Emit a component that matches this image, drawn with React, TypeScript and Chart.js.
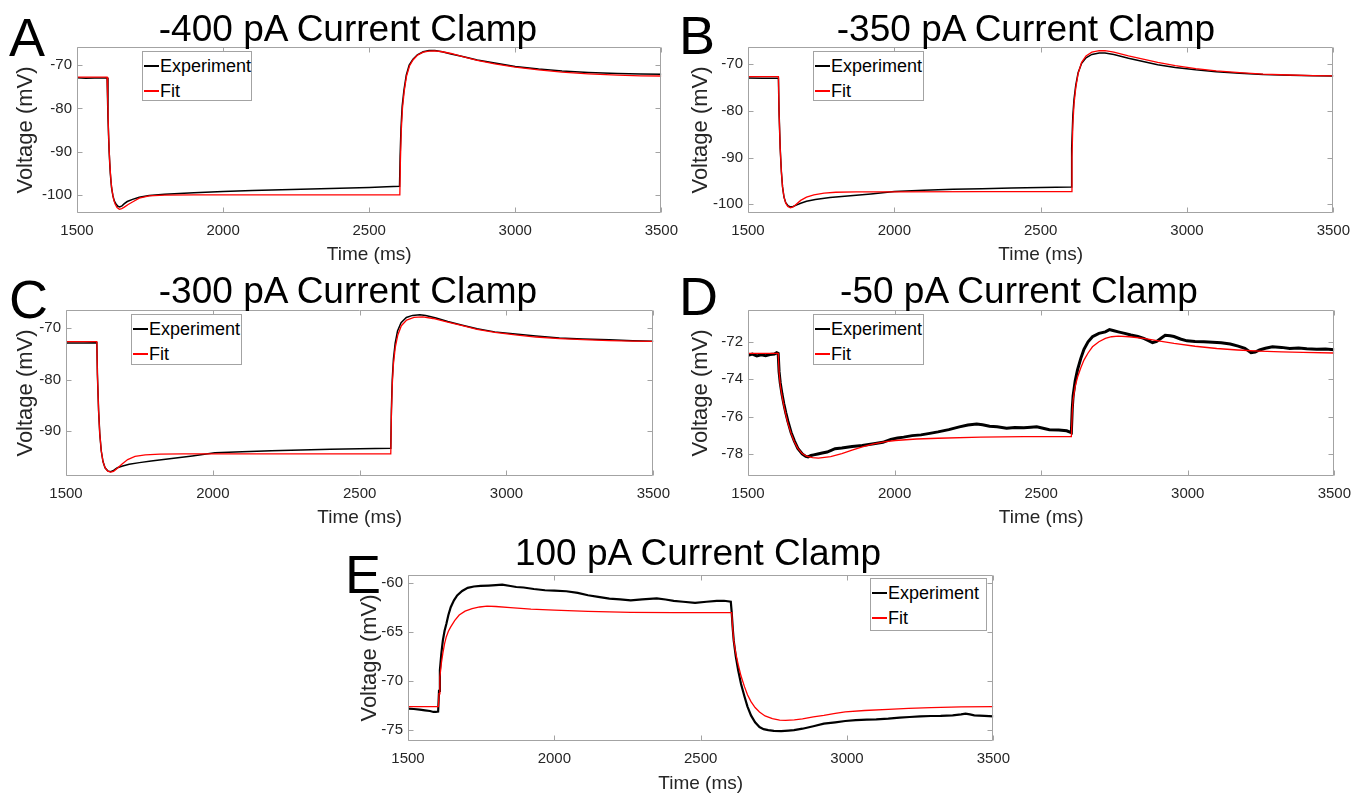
import React, { useEffect, useRef } from 'react';
import { Chart, registerables } from 'chart.js';

Chart.register(...registerables);

const FONT = '"Liberation Sans", Arial, Helvetica, sans-serif';
const AXIS_GRAY = '#a3a3a3';
const LABEL_COLOR = '#262626';
const TICK_SIZE = 15;
const X_TITLE_SIZE = 19;
const Y_TITLE_SIZE = 22;

// ---------- shared axis values ----------
const timeTicks = [1500, 2000, 2500, 3000, 3500];
const timeMin = 1500;
const timeMax = 3500;

// ---------- Panel A: -400 pA ----------
const aVoltTicks = [-100, -90, -80, -70];
const aExperiment: [number, number][] = [
  [1500, -72.9], [1530, -73.0], [1560, -72.95], [1590, -72.95], [1603, -72.9],
  [1606, -82], [1610, -90], [1614, -95], [1618, -98.2], [1623, -100.2],
  [1628, -101.4], [1634, -102.1], [1640, -102.6], [1646, -102.75], [1654, -102.5],
  [1662, -102.0], [1672, -101.5], [1690, -101.0], [1713, -100.5], [1747, -100.1],
  [1800, -99.8], [1900, -99.5], [2000, -99.2], [2100, -98.95], [2200, -98.8],
  [2300, -98.6], [2400, -98.45], [2500, -98.25], [2560, -98.1], [2604, -97.95],
  [2606, -91], [2609, -84.5], [2613, -79.5], [2619, -75.8], [2627, -72.3],
  [2637, -70.0], [2650, -68.6], [2665, -67.6], [2685, -66.9], [2705, -66.6],
  [2725, -66.6], [2750, -66.9], [2780, -67.4], [2820, -68.0], [2870, -68.8],
  [2930, -69.5], [3000, -70.3], [3080, -70.9], [3160, -71.35], [3250, -71.7],
  [3350, -71.95], [3430, -72.05], [3500, -72.1],
];
const aFit: [number, number][] = [
  [1500, -72.75], [1603, -72.75], [1605, -78], [1608, -86], [1612, -92.5],
  [1616, -96.5], [1620, -99.0], [1625, -100.9], [1630, -102.0], [1637, -102.9],
  [1645, -103.3], [1653, -103.15], [1662, -102.8], [1675, -102.2], [1690, -101.6],
  [1713, -100.7], [1747, -100.2], [1800, -100.0], [1900, -99.95], [2200, -99.95],
  [2605, -99.95], [2607, -92], [2610, -85], [2614, -80], [2620, -76],
  [2628, -72.5], [2638, -70.2], [2650, -68.8], [2665, -67.7], [2685, -67.0],
  [2705, -66.75], [2725, -66.7], [2750, -66.9], [2780, -67.3], [2820, -68.0],
  [2870, -68.9], [2930, -69.7], [3000, -70.45], [3080, -71.1], [3160, -71.6],
  [3250, -72.0], [3350, -72.3], [3430, -72.45], [3500, -72.5],
];

// ---------- Panel B: -350 pA ----------
const bVoltTicks = [-100, -90, -80, -70];
const bExperiment: [number, number][] = [
  [1500, -72.95], [1550, -73.0], [1590, -73.0], [1604, -73.0], [1606, -80],
  [1610, -88], [1614, -93], [1618, -96.3], [1623, -98.5], [1629, -99.7],
  [1636, -100.3], [1645, -100.6], [1654, -100.5], [1665, -100.2], [1680, -99.8],
  [1700, -99.4], [1730, -99.0], [1780, -98.6], [1850, -98.2], [1920, -97.8],
  [2000, -97.3], [2100, -97.0], [2200, -96.8], [2300, -96.7], [2400, -96.55],
  [2500, -96.45], [2604, -96.3], [2606, -88], [2610, -81], [2614, -77.5],
  [2620, -74.5], [2628, -71.8], [2640, -69.8], [2655, -68.6], [2675, -67.9],
  [2700, -67.6], [2720, -67.6], [2750, -67.9], [2800, -68.7], [2850, -69.4],
  [2900, -70.1], [2960, -70.7], [3030, -71.2], [3100, -71.6], [3180, -71.95],
  [3260, -72.2], [3350, -72.35], [3430, -72.45], [3500, -72.5],
];
const bFit: [number, number][] = [
  [1500, -72.65], [1604, -72.65], [1606, -80], [1610, -88], [1614, -93],
  [1618, -96.3], [1623, -98.5], [1629, -99.8], [1636, -100.5], [1645, -100.8],
  [1654, -100.6], [1665, -100.0], [1680, -99.2], [1700, -98.5], [1725, -98.0],
  [1760, -97.65], [1800, -97.45], [1870, -97.35], [2000, -97.35], [2300, -97.3],
  [2605, -97.3], [2607, -90], [2610, -83], [2614, -78.5], [2620, -75],
  [2628, -72.0], [2640, -69.6], [2655, -68.2], [2675, -67.4], [2700, -67.1],
  [2720, -67.1], [2750, -67.4], [2800, -68.2], [2850, -68.9], [2900, -69.6],
  [2960, -70.3], [3030, -70.95], [3100, -71.4], [3180, -71.8], [3260, -72.1],
  [3350, -72.3], [3430, -72.45], [3500, -72.5],
];

// ---------- Panel C: -300 pA ----------
const cVoltTicks = [-90, -80, -70];
const cExperiment: [number, number][] = [
  [1500, -72.85], [1560, -72.85], [1605, -72.8], [1607, -79], [1611, -86],
  [1615, -90.5], [1620, -93.8], [1626, -95.9], [1633, -97.1], [1642, -97.7],
  [1652, -97.85], [1662, -97.6], [1675, -97.1], [1690, -96.8], [1715, -96.4],
  [1750, -96.1], [1790, -95.8], [1860, -95.3], [1930, -94.8], [2007, -94.2],
  [2100, -94.0], [2200, -93.8], [2300, -93.65], [2400, -93.5], [2500, -93.4],
  [2606, -93.3], [2608, -86], [2611, -80], [2615, -76], [2621, -72.9],
  [2629, -70.5], [2641, -68.9], [2659, -67.9], [2680, -67.5], [2705, -67.35],
  [2725, -67.5], [2760, -68.0], [2800, -68.7], [2850, -69.4], [2900, -70.1],
  [2960, -70.7], [3030, -71.1], [3100, -71.5], [3180, -71.9], [3260, -72.1],
  [3350, -72.25], [3430, -72.4], [3500, -72.5],
];
const cFit: [number, number][] = [
  [1500, -72.6], [1605, -72.6], [1607, -79], [1611, -86], [1615, -90.5],
  [1620, -93.8], [1626, -95.9], [1633, -97.1], [1642, -97.75], [1652, -97.95],
  [1662, -97.8], [1675, -97.2], [1690, -96.4], [1710, -95.5], [1735, -94.9],
  [1770, -94.6], [1820, -94.45], [1900, -94.4], [2300, -94.4], [2606, -94.4],
  [2608, -87], [2611, -81], [2615, -77], [2621, -73.8], [2630, -71.3],
  [2642, -69.5], [2660, -68.4], [2685, -67.9], [2715, -67.8], [2750, -68.1],
  [2800, -68.8], [2850, -69.5], [2900, -70.2], [2960, -70.8], [3030, -71.3],
  [3100, -71.7], [3180, -72.0], [3260, -72.2], [3350, -72.4], [3430, -72.5],
  [3500, -72.55],
];

// ---------- Panel D: -50 pA ----------
const dVoltTicks = [-78, -76, -74, -72];
const dExperiment: [number, number][] = [
  [1500, -72.72], [1515, -72.66], [1530, -72.76], [1545, -72.7], [1560, -72.74],
  [1575, -72.68], [1590, -72.66], [1598, -72.58], [1603, -72.62], [1606, -73.6],
  [1610, -74.2], [1616, -74.8], [1622, -75.3], [1629, -75.8], [1636, -76.25],
  [1647, -76.85], [1658, -77.3], [1670, -77.7], [1685, -78.0], [1697, -78.13],
  [1705, -78.16], [1715, -78.08], [1724, -78.05], [1738, -78.0], [1753, -77.95],
  [1770, -77.9], [1797, -77.72], [1820, -77.68], [1855, -77.6], [1890, -77.55],
  [1929, -77.45], [1960, -77.38], [1987, -77.22], [2010, -77.15], [2031, -77.1],
  [2060, -77.02], [2090, -76.98], [2120, -76.9], [2148, -76.82], [2185, -76.7],
  [2221, -76.55], [2250, -76.45], [2280, -76.4], [2300, -76.44], [2324, -76.52],
  [2350, -76.55], [2382, -76.62], [2410, -76.58], [2441, -76.6], [2465, -76.57],
  [2485, -76.55], [2510, -76.64], [2528, -76.7], [2560, -76.72], [2587, -76.76],
  [2603, -76.86], [2606, -75.6], [2609, -74.9], [2616, -74.1], [2624, -73.5],
  [2635, -72.9], [2646, -72.4], [2660, -72.0], [2675, -71.73], [2697, -71.55],
  [2719, -71.47], [2733, -71.35], [2745, -71.4], [2763, -71.47], [2785, -71.55],
  [2806, -71.64], [2830, -71.72], [2850, -71.82], [2868, -71.95], [2880, -72.05],
  [2894, -71.98], [2910, -71.8], [2923, -71.65], [2940, -71.68], [2953, -71.72],
  [2975, -71.85], [2997, -71.95], [3025, -71.98], [3055, -72.0], [3085, -72.02],
  [3114, -72.05], [3145, -72.12], [3172, -72.23], [3195, -72.35], [3216, -72.58],
  [3230, -72.55], [3245, -72.44], [3265, -72.35], [3289, -72.27], [3320, -72.3],
  [3348, -72.36], [3378, -72.33], [3406, -72.37], [3440, -72.4], [3470, -72.38],
  [3500, -72.42],
];
const dFit: [number, number][] = [
  [1500, -72.62], [1603, -72.62], [1606, -73.6], [1610, -74.3], [1616, -74.9],
  [1622, -75.4], [1629, -75.9], [1636, -76.35], [1647, -76.9], [1658, -77.35],
  [1670, -77.7], [1685, -77.98], [1700, -78.12], [1720, -78.2], [1740, -78.22],
  [1782, -78.14], [1820, -77.98], [1855, -77.8], [1890, -77.62], [1929, -77.46],
  [1965, -77.36], [2002, -77.28], [2075, -77.2], [2148, -77.16], [2294, -77.1],
  [2441, -77.07], [2603, -77.07], [2606, -75.8], [2609, -75.1], [2616, -74.4],
  [2624, -73.9], [2635, -73.4], [2646, -72.98], [2660, -72.6], [2675, -72.27],
  [2697, -72.0], [2719, -71.82], [2740, -71.73], [2763, -71.7], [2800, -71.73],
  [2850, -71.82], [2900, -71.95], [2953, -72.09], [3025, -72.24], [3099, -72.36],
  [3170, -72.44], [3245, -72.5], [3320, -72.54], [3392, -72.57], [3500, -72.6],
];

// ---------- Panel E: 100 pA ----------
const eVoltTicks = [-75, -70, -65, -60];
const eExperiment: [number, number][] = [
  [1500, -72.8], [1520, -72.85], [1540, -72.92], [1558, -72.98], [1575, -73.05],
  [1587, -73.15], [1595, -73.15], [1603, -73.1], [1606, -71.0], [1609, -68.9],
  [1614, -67.2], [1619, -65.9], [1625, -64.9], [1631, -64.2], [1638, -63.3],
  [1646, -62.5], [1657, -61.8], [1668, -61.3], [1685, -60.85], [1704, -60.54],
  [1725, -60.4], [1748, -60.34], [1775, -60.3], [1800, -60.25], [1822, -60.2],
  [1850, -60.35], [1870, -60.45], [1895, -60.5], [1930, -60.65], [1968, -60.78],
  [2000, -60.82], [2041, -60.88], [2080, -61.05], [2115, -61.29], [2150, -61.45],
  [2188, -61.63], [2225, -61.7], [2261, -61.8], [2300, -61.7], [2350, -61.6],
  [2380, -61.72], [2408, -61.86], [2440, -61.95], [2481, -62.07], [2520, -61.95],
  [2555, -61.86], [2580, -61.85], [2603, -61.95], [2606, -63.0], [2610, -64.8],
  [2613, -65.9], [2620, -67.5], [2628, -68.9], [2638, -70.3], [2650, -71.6],
  [2660, -72.6], [2672, -73.5], [2686, -74.2], [2701, -74.68], [2715, -74.9],
  [2731, -75.0], [2750, -75.08], [2775, -75.1], [2800, -75.05], [2819, -75.0],
  [2848, -74.85], [2885, -74.6], [2921, -74.34], [2960, -74.2], [2994, -74.07],
  [3030, -73.98], [3068, -73.93], [3100, -73.9], [3141, -73.83], [3180, -73.72],
  [3214, -73.66], [3250, -73.6], [3287, -73.56], [3320, -73.55], [3361, -73.49],
  [3390, -73.4], [3405, -73.32], [3420, -73.4], [3435, -73.49], [3470, -73.55],
  [3500, -73.6],
];
const eFit: [number, number][] = [
  [1500, -72.6], [1604, -72.6], [1606, -71.3], [1609, -69.6], [1614, -68.2],
  [1619, -67.2], [1625, -66.2], [1631, -65.5], [1638, -64.95], [1646, -64.5],
  [1660, -63.85], [1675, -63.3], [1695, -62.9], [1719, -62.64], [1745, -62.48],
  [1770, -62.4], [1800, -62.43], [1850, -62.55], [1920, -62.7], [2000, -62.8],
  [2115, -62.92], [2261, -63.02], [2408, -63.05], [2606, -63.05], [2609, -64.5],
  [2613, -65.9], [2620, -67.2], [2628, -68.3], [2638, -69.5], [2650, -70.6],
  [2660, -71.4], [2672, -72.1], [2686, -72.7], [2701, -73.15], [2720, -73.55],
  [2745, -73.83], [2770, -73.97], [2790, -74.0], [2820, -73.95], [2848, -73.85],
  [2885, -73.65], [2921, -73.5], [2960, -73.3], [2994, -73.15], [3060, -73.0],
  [3141, -72.88], [3210, -72.78], [3287, -72.71], [3390, -72.64], [3500, -72.6],
];

// ---------- layout of the figure ----------
type Box = { l: number; t: number; r: number; b: number };
type PanelSpec = {
  letter: string;
  title: string;
  exp: [number, number][];
  fit: [number, number][];
  yMin: number;
  yMax: number;
  yTicks: number[];
  plot: Box;
  yTitleX: number;
  xTitleY: number;
  titleX: number;
  titleBase: number;
  letterX: number;
  letterBase: number;
  legend: { l: number; t: number; w: number; h: number };
  expW: number;
};

const panels: PanelSpec[] = [
  {
    letter: 'A', title: '-400 pA Current Clamp', exp: aExperiment, fit: aFit,
    yMin: -104.15, yMax: -65.8, yTicks: aVoltTicks,
    plot: { l: 77, t: 47, r: 668, b: 213 }, yTitleX: 26, xTitleY: 255,
    titleX: 348, titleBase: 41, letterX: 9, letterBase: 56,
    legend: { l: 142, t: 51, w: 110, h: 50 }, expW: 1.5,
  },
  {
    letter: 'B', title: '-350 pA Current Clamp', exp: bExperiment, fit: bFit,
    yMin: -101.9, yMax: -66.3, yTicks: bVoltTicks,
    plot: { l: 748, t: 47, r: 1340, b: 213 }, yTitleX: 701, xTitleY: 255,
    titleX: 1026, titleBase: 41, letterX: 679, letterBase: 54,
    legend: { l: 813, t: 51, w: 111, h: 50 }, expW: 1.5,
  },
  {
    letter: 'C', title: '-300 pA Current Clamp', exp: cExperiment, fit: cFit,
    yMin: -98.7, yMax: -66.45, yTicks: cVoltTicks,
    plot: { l: 66, t: 310, r: 660, b: 476 }, yTitleX: 26, xTitleY: 518,
    titleX: 348, titleBase: 303, letterX: 9, letterBase: 318,
    legend: { l: 131, t: 314, w: 111, h: 51 }, expW: 1.5,
  },
  {
    letter: 'D', title: '-50 pA Current Clamp', exp: dExperiment, fit: dFit,
    yMin: -79.18, yMax: -70.3, yTicks: dVoltTicks,
    plot: { l: 748, t: 310, r: 1341, b: 476 }, yTitleX: 701, xTitleY: 518,
    titleX: 1019, titleBase: 303, letterX: 679, letterBase: 315,
    legend: { l: 813, t: 314, w: 111, h: 51 }, expW: 3,
  },
  {
    letter: 'E', title: '100 pA Current Clamp', exp: eExperiment, fit: eFit,
    yMin: -76.1, yMax: -59.23, yTicks: eVoltTicks,
    plot: { l: 408, t: 575, r: 1000, b: 741 }, yTitleX: 370, xTitleY: 784,
    titleX: 698, titleBase: 565, letterX: 345, letterBase: 593,
    legend: { l: 870, t: 578, w: 117, h: 53 }, expW: 2.2,
  },
];

const boxPlugin = {
  id: 'matlabBox',
  afterDraw(chart: any) {
    const { ctx, chartArea } = chart;
    const xs = chart.scales.x;
    const ys = chart.scales.y;
    const L = Math.round(chartArea.left) + 0.5;
    const R = Math.round(chartArea.right) - 0.5;
    const T = Math.round(chartArea.top) + 0.5;
    const B = Math.round(chartArea.bottom) - 0.5;
    const TL = 5;
    ctx.save();
    ctx.strokeStyle = AXIS_GRAY;
    ctx.lineWidth = 1;
    ctx.beginPath();
    ctx.rect(L, T, R - L, B - T);
    xs.ticks.forEach((t: any) => {
      const px = Math.round(xs.getPixelForValue(t.value)) + 0.5;
      ctx.moveTo(px, B); ctx.lineTo(px, B - TL);
      ctx.moveTo(px, T); ctx.lineTo(px, T + TL);
    });
    ys.ticks.forEach((t: any) => {
      const py = Math.round(ys.getPixelForValue(t.value)) + 0.5;
      ctx.moveTo(L, py); ctx.lineTo(L + TL, py);
      ctx.moveTo(R, py); ctx.lineTo(R - TL, py);
    });
    ctx.stroke();
    ctx.restore();
  },
};

const PT = 14;
const PR = 19;

function PanelChart({ p }: { p: PanelSpec }) {
  const ref = useRef<HTMLCanvasElement>(null);
  const ylh = Y_TITLE_SIZE * 1.2;
  const xlh = X_TITLE_SIZE * 1.2;
  const cLeft = Math.round(p.yTitleX - ylh / 2);
  const cTop = p.plot.t - PT;
  const yw = p.plot.l - cLeft;
  const xh = Math.round(p.xTitleY + xlh / 2 - p.plot.b);
  const W = yw + (p.plot.r - p.plot.l) + PR;
  const H = PT + (p.plot.b - p.plot.t) + xh;

  useEffect(() => {
    const canvas = ref.current;
    if (!canvas) return;
    const tickFont = { family: FONT, size: TICK_SIZE };
    const chart = new Chart(canvas, {
      type: 'line',
      data: {
        datasets: [
          {
            label: 'Experiment',
            data: p.exp.map(([x, y]) => ({ x, y })),
            borderColor: '#000000',
            backgroundColor: '#000000',
            borderWidth: p.expW,
            pointRadius: 0,
            tension: 0,
            order: 1,
          },
          {
            label: 'Fit',
            data: p.fit.map(([x, y]) => ({ x, y })),
            borderColor: '#ff0000',
            backgroundColor: '#ff0000',
            borderWidth: 1.3,
            pointRadius: 0,
            tension: 0,
            order: 0,
          },
        ],
      },
      options: {
        animation: false,
        responsive: false,
        maintainAspectRatio: false,
        events: [],
        layout: { padding: { top: PT, right: PR, bottom: 0, left: 0 } },
        plugins: {
          legend: { display: false },
          tooltip: { enabled: false },
          title: { display: false },
        },
        scales: {
          x: {
            type: 'linear',
            min: timeMin,
            max: timeMax,
            afterBuildTicks: (s: any) => { s.ticks = timeTicks.map((v) => ({ value: v })); },
            afterFit: (s: any) => { s.height = xh; },
            grid: { display: false, drawTicks: false },
            border: { display: false },
            ticks: {
              padding: 9, font: tickFont, color: LABEL_COLOR, maxRotation: 0, autoSkip: false,
              callback: (v: any) => String(v),
            },
            title: {
              display: true, text: 'Time (ms)', font: { family: FONT, size: X_TITLE_SIZE },
              color: LABEL_COLOR, padding: 0,
            },
          },
          y: {
            type: 'linear',
            min: p.yMin,
            max: p.yMax,
            afterBuildTicks: (s: any) => { s.ticks = p.yTicks.map((v) => ({ value: v })); },
            afterFit: (s: any) => { s.width = yw; },
            grid: { display: false, drawTicks: false },
            border: { display: false },
            ticks: {
              padding: 5, font: tickFont, color: LABEL_COLOR, autoSkip: false,
              callback: (v: any) => String(v),
            },
            title: {
              display: true, text: 'Voltage (mV)', font: { family: FONT, size: Y_TITLE_SIZE },
              color: LABEL_COLOR, padding: 0,
            },
          },
        },
      } as any,
      plugins: [boxPlugin],
    });
    return () => chart.destroy();
  }, []);

  return (
    <canvas
      ref={ref}
      width={W}
      height={H}
      style={{ position: 'absolute', left: cLeft, top: cTop, width: W, height: H }}
    />
  );
}

function Legend({ p }: { p: PanelSpec }) {
  const { l, t, w, h } = p.legend;
  const rows = [
    { label: 'Experiment', color: '#000000', lw: p.expW > 1.5 ? 2 : 1.5, cy: 15 },
    { label: 'Fit', color: '#ff0000', lw: 1.3, cy: 40 },
  ];
  return (
    <div
      style={{
        position: 'absolute', left: l, top: t, width: w, height: h,
        boxSizing: 'border-box', border: `1px solid ${AXIS_GRAY}`, background: '#ffffff',
        fontFamily: FONT, fontSize: 18, color: '#000000',
      }}
    >
      {rows.map((r) => (
        <React.Fragment key={r.label}>
          <div
            style={{
              position: 'absolute', left: 1, top: r.cy - 1 - r.lw / 2, width: 15, height: r.lw,
              background: r.color,
            }}
          />
          <div
            style={{
              position: 'absolute', left: 17, top: r.cy - 1 - 9, height: 18, lineHeight: '18px',
              whiteSpace: 'nowrap',
            }}
          >
            {r.label}
          </div>
        </React.Fragment>
      ))}
    </div>
  );
}

function Headings({ p }: { p: PanelSpec }) {
  const titleSize = 37;
  const letterSize = 54;
  return (
    <>
      <div
        style={{
          position: 'absolute', left: p.titleX - 300, width: 600, textAlign: 'center',
          top: p.titleBase - 0.8465 * titleSize, fontSize: titleSize, lineHeight: `${titleSize}px`,
          fontFamily: FONT, color: '#000000', whiteSpace: 'nowrap',
        }}
      >
        {p.title}
      </div>
      <div
        style={{
          position: 'absolute', left: p.letterX,
          top: p.letterBase - 0.8465 * letterSize, fontSize: letterSize, lineHeight: `${letterSize}px`,
          fontFamily: FONT, color: '#000000',
        }}
      >
        {p.letter}
      </div>
    </>
  );
}

export default function App() {
  return (
    <div
      style={{
        position: 'absolute', left: 0, top: 0, width: 1359, height: 793,
        overflow: 'hidden', background: '#ffffff',
      }}
    >
      {panels.map((p) => (
        <React.Fragment key={p.letter}>
          <PanelChart p={p} />
          <Legend p={p} />
          <Headings p={p} />
        </React.Fragment>
      ))}
    </div>
  );
}
